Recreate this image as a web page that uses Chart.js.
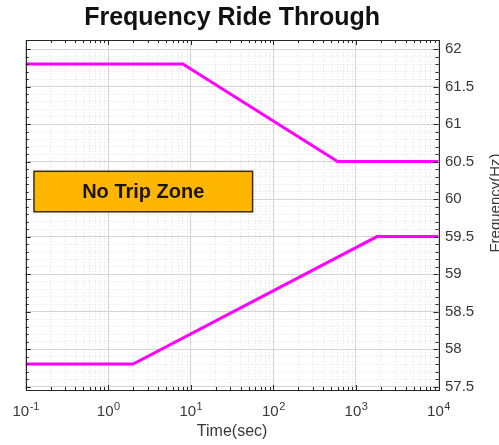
<!DOCTYPE html>
<html>
<head>
<meta charset="utf-8">
<script src="https://cdn.jsdelivr.net/npm/chart.js@4/dist/chart.umd.min.js"></script>
<style>
  html, body { margin: 0; padding: 0; background: #ffffff; }
  #wrap { width: 499px; height: 445px; }
  canvas { display: block; }
</style>
</head>
<body>
<div id="wrap"><canvas id="chart" width="499" height="445"></canvas></div>
<script>
// Over-frequency ride-through limit (seconds, Hz)
const overTime = [0.1, 8, 600, 10000];
const overFreq = [61.8, 61.8, 60.5, 60.5];

// Under-frequency ride-through limit (seconds, Hz)
const underTime = [0.1, 2, 1800, 10000];
const underFreq = [57.8, 57.8, 59.5, 59.5];

// Axis ticks and limits
const timeDecades = [0.1, 1, 10, 100, 1000, 10000];
const freqTicks = [57.5, 58, 58.5, 59, 59.5, 60, 60.5, 61, 61.5, 62];
const freqLimits = [57.455, 62.12];

// "No Trip Zone" label box, in axis units (seconds, Hz)
const zoneTime = [0.126, 56];
const zoneFreq = [59.83, 60.37];
const zoneLabel = 'No Trip Zone';

const FONT = '"Liberation Sans", Arial, Helvetica, sans-serif';
const INK = '#262626';
const TEXT = '#383838';

// Log axis: every 1..9 multiple of each decade, decades flagged as major
function buildTimeTicks() {
  const t = [];
  for (let i = 0; i < timeDecades.length - 1; i++) {
    for (let k = 1; k <= 9; k++) {
      t.push({ value: k * timeDecades[i], major: k === 1 });
    }
  }
  t.push({ value: timeDecades[timeDecades.length - 1], major: true });
  return t;
}

// Frequency axis: labelled ticks every 0.5 Hz, minor ticks every 0.1 Hz
function buildFreqTicks() {
  const t = [];
  for (let i = 0; i < freqTicks.length; i++) {
    t.push({ value: freqTicks[i], major: true });
    if (i < freqTicks.length - 1) {
      for (let k = 1; k <= 4; k++) {
        t.push({ value: Math.round((freqTicks[i] + k * 0.1) * 10) / 10, major: false });
      }
    }
  }
  return t;
}

const toPoints = (xs, ys) => xs.map((v, i) => ({ x: v, y: ys[i] }));

const decor = {
  id: 'decor',
  afterDatasetsDraw(chart) {
    const { ctx, chartArea: a, scales: { x, y } } = chart;
    ctx.save();

    // label box
    const bx0 = x.getPixelForValue(zoneTime[0]);
    const bx1 = x.getPixelForValue(zoneTime[1]);
    const by0 = y.getPixelForValue(zoneFreq[1]);
    const by1 = y.getPixelForValue(zoneFreq[0]);
    ctx.fillStyle = '#FFB600';
    ctx.fillRect(bx0, by0, bx1 - bx0, by1 - by0);
    ctx.strokeStyle = '#3a2a08';
    ctx.lineWidth = 1.5;
    ctx.strokeRect(bx0, by0, bx1 - bx0, by1 - by0);
    ctx.fillStyle = '#1c1406';
    ctx.font = 'bold 20px ' + FONT;
    ctx.textAlign = 'center';
    ctx.textBaseline = 'middle';
    ctx.fillText(zoneLabel, (bx0 + bx1) / 2, (by0 + by1) / 2 + 1);

    // axes box
    ctx.strokeStyle = INK;
    ctx.lineWidth = 1;
    ctx.strokeRect(Math.round(a.left) + 0.5, Math.round(a.top) + 0.5,
                   Math.round(a.right) - Math.round(a.left), Math.round(a.bottom) - Math.round(a.top));

    // inward tick marks on all four sides
    ctx.beginPath();
    x.ticks.forEach(t => {
      const px = Math.round(x.getPixelForValue(t.value)) + 0.5;
      const len = t.major ? 5 : 3;
      ctx.moveTo(px, a.bottom); ctx.lineTo(px, a.bottom - len);
      ctx.moveTo(px, a.top); ctx.lineTo(px, a.top + len);
    });
    y.ticks.forEach(t => {
      const py = Math.round(y.getPixelForValue(t.value)) + 0.5;
      const len = t.major ? 5 : 3;
      ctx.moveTo(a.left, py); ctx.lineTo(a.left + len, py);
      ctx.moveTo(a.right, py); ctx.lineTo(a.right - len, py);
    });
    ctx.stroke();
    ctx.restore();
  },
  afterDraw(chart) {
    const { ctx, chartArea: a, scales: { x } } = chart;
    ctx.save();
    ctx.fillStyle = TEXT;
    ctx.textBaseline = 'alphabetic';
    ctx.textAlign = 'left';

    // power-of-ten labels under the time axis
    timeDecades.forEach(d => {
      const exp = String(Math.round(Math.log10(d)));
      const px = x.getPixelForValue(d);
      ctx.font = '15px ' + FONT;
      const wb = ctx.measureText('10').width;
      ctx.font = '11px ' + FONT;
      const ws = ctx.measureText(exp).width;
      const x0 = px - (wb + ws) / 2;
      ctx.font = '15px ' + FONT;
      ctx.fillText('10', x0, a.bottom + 26);
      ctx.font = '11px ' + FONT;
      ctx.fillText(exp, x0 + wb + 0.5, a.bottom + 20);
    });

    // frequency axis title, reading upward on the right edge
    ctx.font = '15px ' + FONT;
    ctx.textAlign = 'center';
    ctx.textBaseline = 'middle';
    ctx.translate(496, 203);
    ctx.rotate(-Math.PI / 2);
    ctx.fillText('Frequency(Hz)', 0, 0);
    ctx.restore();
  }
};

new Chart(document.getElementById('chart'), {
  type: 'line',
  data: {
    datasets: [
      {
        label: 'Over-frequency',
        data: toPoints(overTime, overFreq),
        borderColor: '#FF00FF',
        borderWidth: 3,
        pointRadius: 0,
        tension: 0,
        fill: false
      },
      {
        label: 'Under-frequency',
        data: toPoints(underTime, underFreq),
        borderColor: '#FF00FF',
        borderWidth: 3,
        pointRadius: 0,
        tension: 0,
        fill: false
      }
    ]
  },
  options: {
    responsive: false,
    animation: false,
    devicePixelRatio: 1,
    layout: { padding: { left: 25.7, right: 0, top: 0, bottom: 0 } },
    plugins: {
      legend: { display: false },
      tooltip: { enabled: false },
      title: {
        display: true,
        text: 'Frequency Ride Through',
        fullSize: false,
        color: '#111111',
        font: { family: FONT, size: 25, weight: 'bold', lineHeight: 1.2 },
        padding: { top: 3, bottom: 7 }
      }
    },
    scales: {
      x: {
        type: 'logarithmic',
        min: timeDecades[0],
        max: timeDecades[timeDecades.length - 1],
        afterBuildTicks: s => { s.ticks = buildTimeTicks(); },
        afterFit: s => { s.height = 55; },
        ticks: { display: false, autoSkip: false },
        grid: {
          drawTicks: false,
          lineWidth: 1,
          color: c => (c.tick && c.tick.major) ? '#d4d4d4' : '#e2e2e2'
        },
        border: {
          display: false,
          dash: c => (c.tick && c.tick.major) ? [] : [1, 2]
        },
        title: {
          display: true,
          text: 'Time(sec)',
          color: TEXT,
          font: { family: FONT, size: 16, lineHeight: 1.2 },
          padding: { top: 0, bottom: 3.4 }
        }
      },
      y: {
        type: 'linear',
        position: 'right',
        min: freqLimits[0],
        max: freqLimits[1],
        afterBuildTicks: s => { s.ticks = buildFreqTicks(); },
        afterFit: s => { s.width = 60.5; },
        ticks: {
          autoSkip: false,
          padding: 6.5,
          color: TEXT,
          font: { family: FONT, size: 15 },
          callback: (v, i, ticks) => ticks[i].major ? String(v) : ''
        },
        grid: {
          drawTicks: false,
          lineWidth: 1,
          color: c => (c.tick && c.tick.major) ? '#d4d4d4' : '#e2e2e2'
        },
        border: {
          display: false,
          dash: c => (c.tick && c.tick.major) ? [] : [1, 2]
        },
        title: { display: false }
      }
    }
  },
  plugins: [decor]
});
</script>
</body>
</html>
